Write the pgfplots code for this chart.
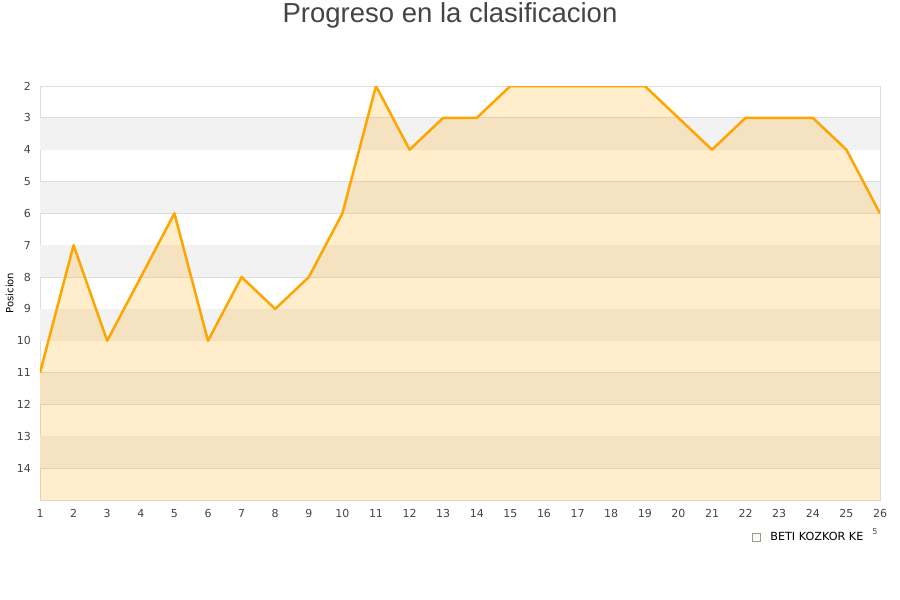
\documentclass[border=0pt]{standalone}
\usepackage{fontspec}
\setmainfont{DejaVu Sans}
\newfontfamily\titlefont{Liberation Sans}
\usepackage{pgfplots}
\pgfplotsset{compat=1.18}
\definecolor{lineorange}{HTML}{FFA500}
\definecolor{band}{HTML}{F2F2F2}
\definecolor{gridgray}{HTML}{DDDDDD}
\definecolor{txt}{HTML}{444444}
\begin{document}
\begin{tikzpicture}
\path[use as bounding box] (-40pt,-100pt) rectangle (860pt,500pt);
\node[font=\titlefont\fontsize{27.5}{30}\selectfont, text=txt] at (410pt,485pt) {Progreso en la clasificacion};
\begin{axis}[
    at={(0pt,0pt)}, anchor=south west,
    scale only axis, width=840pt, height=414pt,
    xmin=1, xmax=26, ymin=2, ymax=15, y dir=reverse,
    xtick={1,...,26}, ytick={2,...,14},
    major tick length=0pt, tick style={draw=none},
    ymajorgrids, major grid style={draw=gridgray, line width=0.8pt},
    axis line style={draw=gridgray, line width=0.8pt},
    ticklabel style={font=\fontsize{11}{13}\selectfont, text=txt},
    /pgf/number format/assume math mode=true,
    y tick label style={inner sep=0pt, xshift=-9pt},
    x tick label style={inner sep=0pt, yshift=-9pt},
    ylabel={Posicion},
    ylabel style={font=\fontsize{10.5}{12}\selectfont, text=txt},
    every axis y label/.style={at={(axis description cs:-0.036,0.5)}, rotate=90, anchor=center},
    legend style={draw=none, fill=none, at={(0.8476,-0.0894)}, anchor=west,
        inner xsep=0pt, inner ysep=0pt, font=\fontsize{11.2}{13}\selectfont,
        cells={anchor=west}, nodes={inner xsep=0pt}},
    legend image code/.code={
        \path (0pt,0pt) -- (18pt,0pt);
        \draw[fill=lineorange!25, draw=gray!80] (0pt,-4pt) rectangle (8pt,4pt);},
    bandplot/.style={fill=band, draw=none, forget plot},
]
\addplot[bandplot] coordinates {(1,3) (26,3) (26,4) (1,4)};
\addplot[bandplot] coordinates {(1,5) (26,5) (26,6) (1,6)};
\addplot[bandplot] coordinates {(1,7) (26,7) (26,8) (1,8)};
\addplot[bandplot] coordinates {(1,9) (26,9) (26,10) (1,10)};
\addplot[bandplot] coordinates {(1,11) (26,11) (26,12) (1,12)};
\addplot[bandplot] coordinates {(1,13) (26,13) (26,14) (1,14)};
\addplot[fill=lineorange, fill opacity=0.2, draw=none] coordinates {
(1,15) (1,11) (2,7) (3,10) (4,8) (5,6) (6,10) (7,8) (8,9) (9,8) (10,6)
(11,2) (12,4) (13,3) (14,3) (15,2) (16,2) (17,2) (18,2) (19,2) (20,3)
(21,4) (22,3) (23,3) (24,3) (25,4) (26,6) (26,15)};
\addlegendentry{BETI KOZKOR KE}
\addplot[draw=lineorange, line width=2.5pt, line join=round, forget plot] coordinates {
(1,11) (2,7) (3,10) (4,8) (5,6) (6,10) (7,8) (8,9) (9,8) (10,6)
(11,2) (12,4) (13,3) (14,3) (15,2) (16,2) (17,2) (18,2) (19,2) (20,3)
(21,4) (22,3) (23,3) (24,3) (25,4) (26,6)};
\end{axis}
\node[font=\fontsize{8}{9}\selectfont, text=txt] at (835pt,-32pt) {5};
\end{tikzpicture}
\end{document}
